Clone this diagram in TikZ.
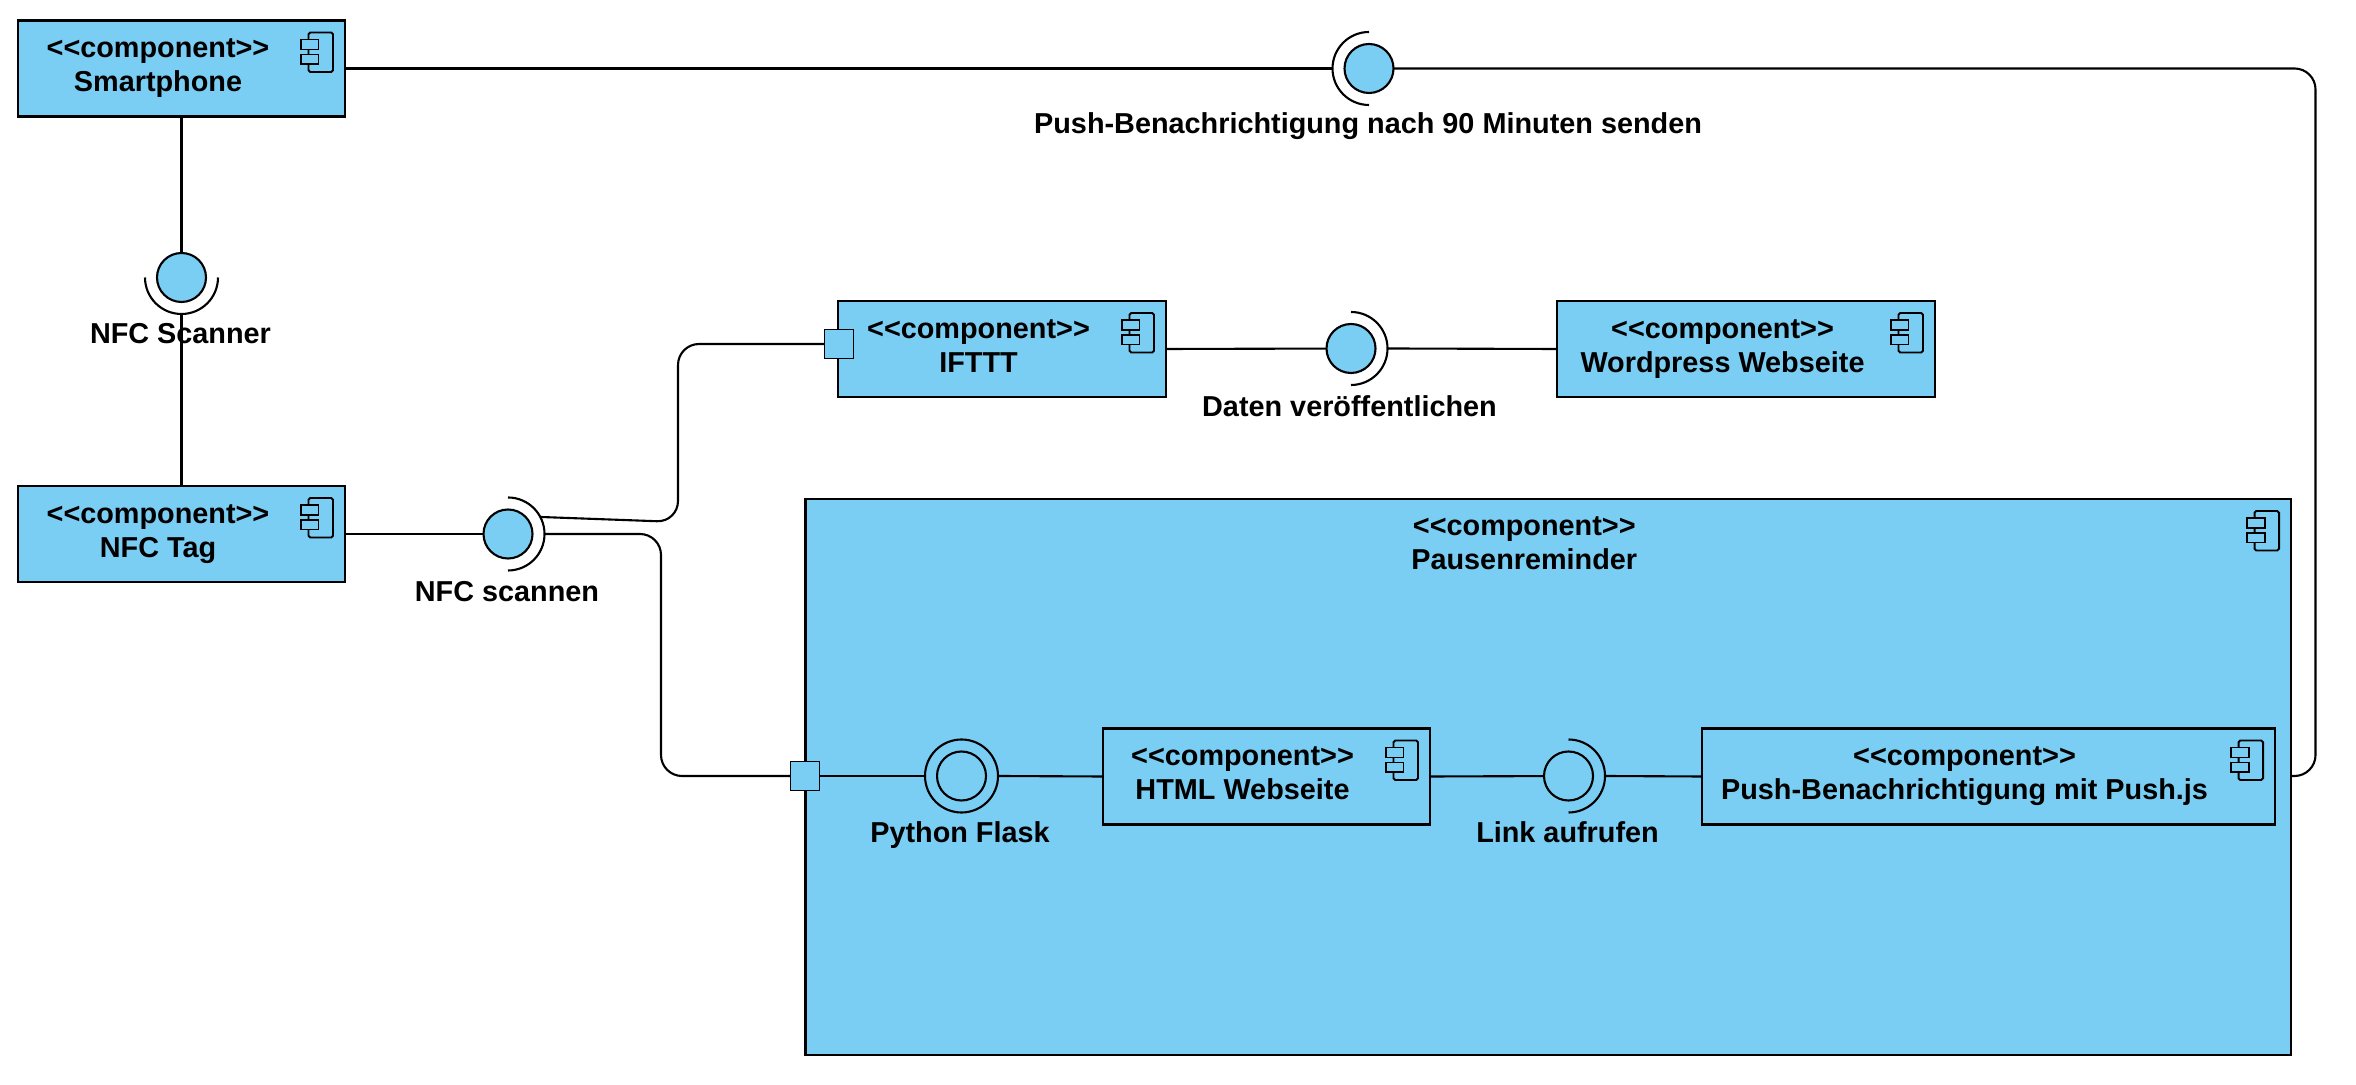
\documentclass[tikz,border=0pt]{standalone}
\usepackage{fontspec}
\setmainfont{Liberation Sans}
\usepackage{tikz}
\usetikzlibrary{positioning}
\definecolor{compblue}{HTML}{7ACEF4}
\newcommand{\stereotype}{<{}<component>{}>}
\tikzset{comp/.style = {draw, fill=compblue, line width=1.4pt, outer sep=0, inner sep=0, minimum height=1.92cm}}
\tikzset{comptext/.style = {anchor=north, align=center, font=\fontsize{16.4}{19.4}\selectfont\bfseries, inner sep=0}}
\tikzset{lbl/.style = {font=\fontsize{16.4}{19.4}\selectfont\bfseries, inner sep=0}}
\tikzset{ball/.style = {draw, fill=compblue, circle, line width=1.2pt, outer sep=0, inner sep=0, minimum size=0.98cm}}
\tikzset{sock/.style = {circle, outer sep=0, inner sep=0, minimum size=1.46cm}}
\tikzset{port/.style = {draw, fill=compblue, line width=1.1pt, outer sep=0, inner sep=0, minimum size=0.58cm}}
\tikzset{conn/.style = {line width=1.2pt, rounded corners=0.42cm}}
\tikzset{compicon/.pic = {
    \draw [line width=1.1pt, rounded corners=1pt] (-0.73, -0.24) rectangle (-0.24, -1.03);
    \draw [line width=1.1pt, fill=compblue] (-0.88, -0.38) rectangle (-0.53, -0.58);
    \draw [line width=1.1pt, fill=compblue] (-0.88, -0.68) rectangle (-0.53, -0.87);
}}

\begin{document}
\begin{tikzpicture}
    \useasboundingbox (0, 0) rectangle (47.12, 21.68);

    % boxes
    \node [comp, minimum width=6.54cm] (smart) at (3.63, 20.31) {};
    \node [comp, minimum width=6.54cm] (nfctag) at (3.63, 11.0) {};
    \node [comp, minimum width=6.56cm] (ifttt) at (20.04, 14.7) {};
    \node [comp, minimum width=7.56cm] (wordpress) at (34.92, 14.7) {};
    \node [comp, minimum width=29.71cm, minimum height=11.12cm] (pausen) at (30.965, 6.14) {};
    \node [comp, minimum width=6.54cm] (html) at (25.33, 6.15) {};
    \node [comp, minimum width=11.46cm] (push) at (39.77, 6.15) {};

    \node [comptext] (smarttext) at ([shift={(-0.47, -0.35)}] smart.north) {\stereotype\\Smartphone};
    \node [comptext] (nfctagtext) at ([shift={(-0.47, -0.36)}] nfctag.north) {\stereotype\\NFC Tag};
    \node [comptext] (ifttttext) at ([shift={(-0.47, -0.36)}] ifttt.north) {\stereotype\\IFTTT};
    \node [comptext] (wordpresstext) at ([shift={(-0.47, -0.36)}] wordpress.north) {\stereotype\\Wordpress Webseite};
    \node [comptext] (pausentext) at ([shift={(-0.48, -0.34)}] pausen.north) {\stereotype\\Pausenreminder};
    \node [comptext] (htmltext) at ([shift={(-0.48, -0.36)}] html.north) {\stereotype\\HTML Webseite};
    \node [comptext] (pushtext) at ([shift={(-0.48, -0.36)}] push.north) {\stereotype\\Push-Benachrichtigung mit Push.js};

    \pic at (smart.north east) {compicon};
    \pic at (nfctag.north east) {compicon};
    \pic at (ifttt.north east) {compicon};
    \pic at (wordpress.north east) {compicon};
    \pic at (pausen.north east) {compicon};
    \pic at (html.north east) {compicon};
    \pic at (push.north east) {compicon};

    % interfaces
    \node [sock] (scansock) at (3.63, 16.13) {};
    \node [sock] (nfcsock) at (10.16, 11.0) {};
    \node [sock] (topsock) at (27.38, 20.31) {};
    \node [sock] (datensock) at (27.02, 14.71) {};
    \node [sock] (flaskouter) at (19.23, 6.16) {};
    \node [sock] (linksock) at (31.37, 6.16) {};

    \draw [line width=1.2pt] (scansock.east) arc [start angle=0, end angle=-180, radius=0.73];
    \draw [line width=1.2pt] (nfcsock.north) arc [start angle=90, end angle=-90, radius=0.73];
    \draw [line width=1.2pt] (topsock.north) arc [start angle=90, end angle=270, radius=0.73];
    \draw [line width=1.2pt] (datensock.north) arc [start angle=90, end angle=-90, radius=0.73];
    \draw [line width=1.2pt] (linksock.north) arc [start angle=90, end angle=-90, radius=0.73];
    \draw [line width=1.2pt] (flaskouter) circle [radius=0.73];

    % ports
    \node [port] (iftttport) at (16.78, 14.8) {};
    \node [port] (pausenport) at (16.1, 6.16) {};

    % connectors
    \draw [conn] (smart) -- (scansock.center);
    \draw [conn] (scansock.south) -- (nfctag.north);
    \draw [conn] (smart.east) -- (topsock.west);
    \draw [conn] (nfctag.east) -- (nfcsock.center);
    \draw [conn] (ifttt.east) -- (datensock.center);
    \draw [conn] (datensock.east) -- (wordpress.west);
    \draw [conn] ([shift={(0.66, 0.34)}] nfcsock.center) -- (13.56, 11.24) -- (13.56, 14.8) -- (iftttport.west);
    \draw [conn] (nfcsock.east) -- (13.22, 11.0) -- (13.22, 6.16) -- (pausenport.west);
    \draw [conn] (pausenport.east) -- (flaskouter.west);
    \draw [conn] (flaskouter.east) -- (html.west);
    \draw [conn] (html.east) -- (linksock.center);
    \draw [conn] (linksock.east) -- (push.west);
    \draw [conn] (pausen.east |- pausenport) -- (46.31, 6.16) -- (46.31, 20.31) -- (topsock.center);

    % redraw ports and balls over the lines
    \node [port] (iftttportb) at (iftttport) {};
    \node [port] (pausenportb) at (pausenport) {};
    \node [ball] (scanball) at (scansock) {};
    \node [ball] (nfcball) at (nfcsock) {};
    \node [ball] (topball) at (topsock) {};
    \node [ball] (datenball) at (datensock) {};
    \node [ball] (flaskball) at (flaskouter) {};
    \node [ball] (linkball) at (linksock) {};

    % labels
    \node [lbl] (toplabel) at (27.36, 19.15) {Push-Benachrichtigung nach 90 Minuten senden};
    \node [lbl] (scanlabel) at (3.61, 15.0) {NFC Scanner};
    \node [lbl] (nfclabel) at (10.14, 9.85) {NFC scannen};
    \node [lbl] (datenlabel) at (26.99, 13.56) {Daten veröffentlichen};
    \node [lbl] (flasklabel) at (19.2, 4.98) {Python Flask};
    \node [lbl] (linklabel) at (31.35, 5.04) {Link aufrufen};
\end{tikzpicture}
\end{document}
